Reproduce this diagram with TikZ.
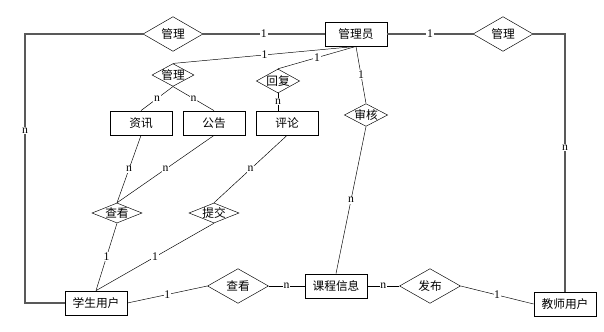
\documentclass[tikz,border=0pt]{standalone}
\usepackage{fontspec}
\setmainfont{Liberation Serif}
\newfontfamily\cjk{Noto Sans CJK SC}
\usetikzlibrary{shapes.geometric}

\begin{document}
\begin{tikzpicture}[x=0.03cm, y=-0.03cm,
  ent/.style={draw, line width=0.7pt, minimum width=1.86cm, minimum height=0.72cm, inner sep=0pt, font=\cjk\fontsize{10}{12}\selectfont},
  rel/.style={draw, diamond, inner sep=0pt, minimum width=1.8cm, minimum height=1.04cm, font=\cjk\fontsize{10}{12}\selectfont},
  srel/.style={rel, minimum width=1.3cm, minimum height=0.68cm},
  card/.style={fill=white, inner sep=0.6pt, font=\fontsize{10}{12}\selectfont},
  outer/.style={draw=black!65, line width=0.9pt}]

\useasboundingbox (0,0) rectangle (604,332);

% Entities
\node[ent] (adm) at (356,34)  {管理员};
\node[ent] (zx)  at (141,123) {资讯};
\node[ent] (gg)  at (214,123) {公告};
\node[ent] (pl)  at (287,123) {评论};
\node[ent] (stu) at (96,303)  {学生用户};
\node[ent] (kc)  at (336,286) {课程信息};
\node[ent] (tea) at (565,304) {教师用户};

% Relations
\node[rel]  (mgL) at (173,34)  {\makebox[0pt]{管理}};
\node[rel]  (mgR) at (503,34)  {\makebox[0pt]{管理}};
\node[srel, minimum width=1.26cm] (mgS) at (173,75) {\makebox[0pt]{管理}};
\node[srel, minimum height=0.72cm] (hf) at (278,81) {\makebox[0pt]{回复}};
\node[srel] (sh)  at (366,115) {\makebox[0pt]{审核}};
\node[srel, minimum width=1.5cm, minimum height=0.6cm] (ck) at (117,213) {\makebox[0pt]{查看}};
\node[srel, minimum width=1.5cm, minimum height=0.6cm] (tj) at (214,213) {\makebox[0pt]{提交}};
\node[rel, minimum width=1.83cm] (ck2) at (238,286) {\makebox[0pt]{查看}};
\node[rel, minimum width=1.83cm] (fb)  at (430,286) {\makebox[0pt]{发布}};

\coordinate (cl) at (25,303);

% Outer loop
\draw[outer] (adm.west) -- node[card] {1} (mgL.east);
\draw[outer] (mgL.west) -| node[card, pos=0.68] {n} (cl) -- (stu.west);
\draw[outer] (adm.east) -- node[card] {1} (mgR.west);
\draw[outer] (mgR.east) -| node[card, pos=0.72] {n} (tea.north);

% Administrator links
\draw (adm.south) -- node[card] {1} (mgS.north);
\draw (adm.south) -- node[card] {1} (hf.north);
\draw (adm.south) -- node[card] {1} (sh.north);
\draw (mgS.south) -- node[card] {n} (zx.north);
\draw (mgS.south) -- node[card] {n} (gg.north);
\draw (hf.south) -- node[card] {n} (hf.south |- pl.north);

% Student links
\draw (zx.south) -- node[card] {n} (ck.north);
\draw (gg.south) -- node[card] {n} (ck.north);
\draw (pl.south) -- node[card] {n} (tj.north);
\draw (ck.south) -- node[card] {1} (stu.north);
\draw (tj.south) -- node[card] {1} (stu.north);
\draw (stu.east) -- node[card] {1} (ck2.west);
\draw (ck2.east) -- node[card] {n} (kc.west);

% Course links
\draw (sh.south) -- node[card] {n} (kc.north);
\draw (kc.east) -- node[card] {n} (fb.west);
\draw (fb.east) -- node[card] {1} (tea.west);

\end{tikzpicture}
\end{document}
